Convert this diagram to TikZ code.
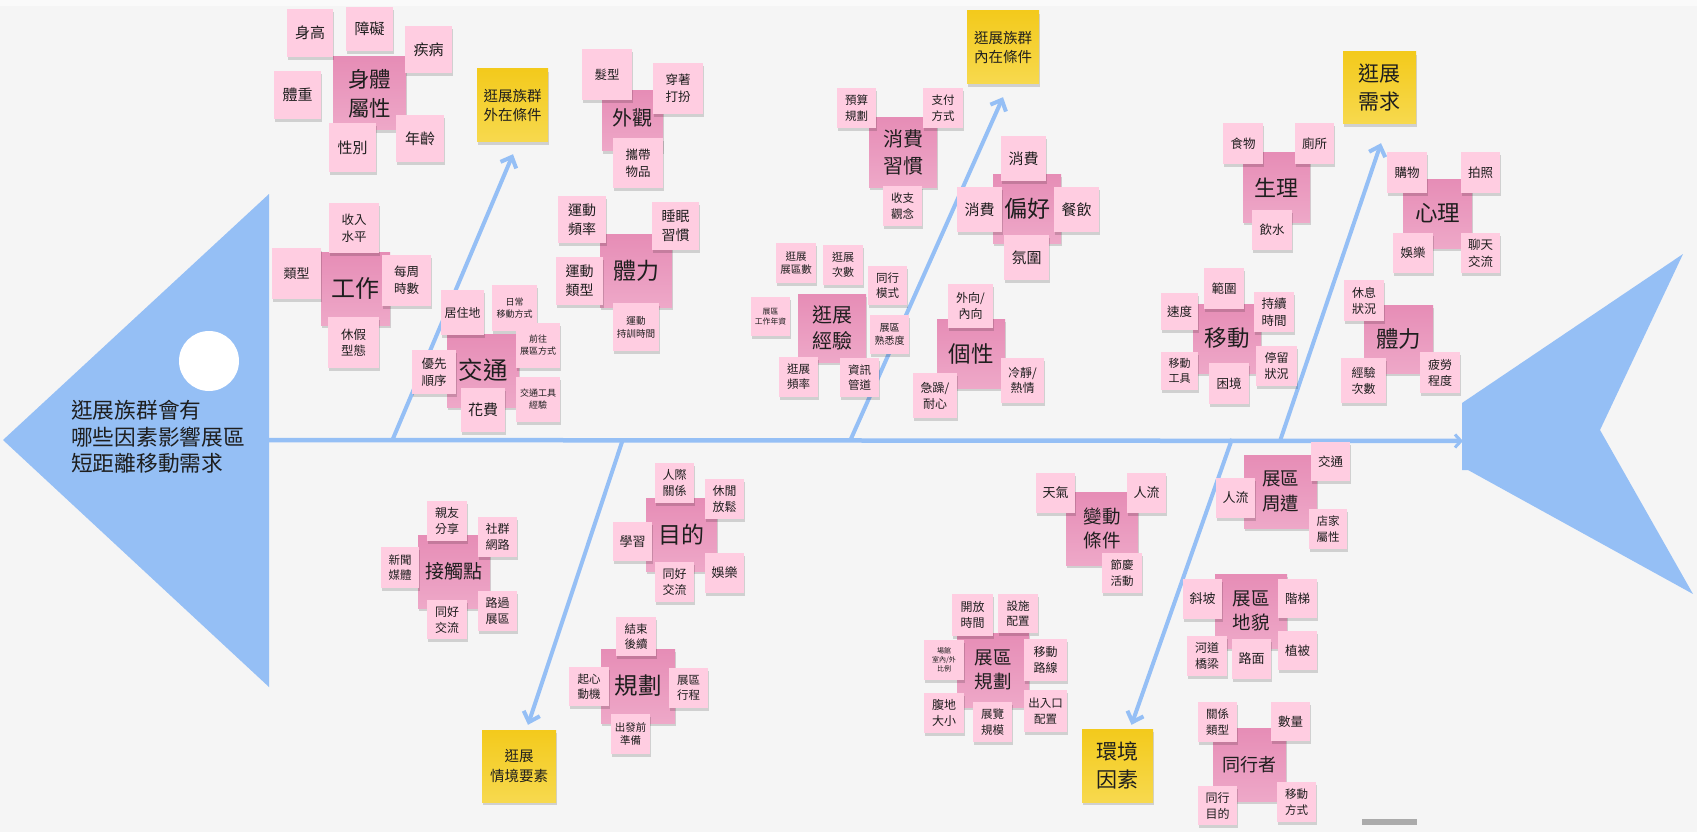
\documentclass[tikz,border=0pt]{standalone}
\usepackage{fontspec}
\setmainfont{Noto Sans CJK TC}
\usetikzlibrary{arrows.meta,shadows}
\definecolor{bgc}{HTML}{F5F5F5}
\definecolor{fish}{HTML}{95BFF5}
\definecolor{ltp}{HTML}{FFCDE1}
\definecolor{dkpA}{HTML}{E68DB6}
\definecolor{dkpB}{HTML}{EEA8C8}
\definecolor{ylA}{HTML}{F3CA1C}
\definecolor{ylB}{HTML}{F7D94E}
\definecolor{ink}{HTML}{1E1E1E}
\pgfdeclarelayer{bgl}
\pgfsetlayers{bgl,main}
\newcommand\stk[8]{\node[#1, minimum width={(#5-#3)*1pt}, minimum height={(#6-#4)*1pt}, font=\fontsize{#7}{\fpeval{#7*1.33}}\selectfont] (#2) at ({(#3+#5)/2},{(#4+#6)/2}) {#8};}
\tikzset{
 note/.style={inner sep=0pt, align=center, text=ink, drop shadow={shadow xshift=0.6pt, shadow yshift=-3pt, fill=black, opacity=0.15}},
 lt/.style={note, fill=ltp},
 dk/.style={note, top color=dkpA, bottom color=dkpB},
 yl/.style={note, top color=ylA, bottom color=ylB},
 bone/.style={draw=fish, line width=4pt, -{Straight Barb[length=9pt,width=17pt]}},
 spine/.style={draw=fish, line width=4.5pt, -{Straight Barb[length=6pt,width=13pt,line width=3pt]}}
}
\begin{document}
\begin{tikzpicture}[x=1pt,y=-1pt]
\useasboundingbox (0,0) rectangle (1697,832);
% ---------- dark category notes ----------
\stk{dk}{shenti}{333}{57}{406}{130}{21.5}{身體\\屬性}
\stk{dk}{gongzuo}{321}{252}{390}{325}{24}{工作}
\stk{dk,text depth=8pt}{waiguan}{602}{91}{663}{151}{20}{外觀}
\stk{dk}{tili1}{600}{234}{672}{307}{23}{體力}
\stk{dk}{jiaotong}{447}{334}{519}{407}{24.5}{交通}
\stk{dk}{xiaofei}{869}{118}{937}{187}{20}{消費\\習慣}
\stk{dk}{pianhao}{993}{174}{1061}{243}{23}{偏好}
\stk{dk}{jingyan}{798}{294}{866}{362}{20}{逛展\\經驗}
\stk{dk}{gexing}{937}{319}{1005}{388}{22.5}{個性}
\stk{dk}{shengli}{1243}{153}{1310}{222}{22}{生理}
\stk{dk}{xinli}{1403}{179}{1472}{248}{22.5}{心理}
\stk{dk}{yidong}{1193}{304}{1261}{373}{22.5}{移動}
\stk{dk}{tili2}{1364}{305}{1433}{373}{22.5}{體力}
\stk{dk}{jiechu}{418}{535}{490}{608}{19}{接觸點}
\stk{dk}{mudi}{646}{498}{717}{571}{23}{目的}
\stk{dk}{guihua}{601}{649}{675}{723}{23.5}{規劃}
\stk{dk}{biandong}{1066}{492}{1138}{565}{18.5}{變動\\條件}
\stk{dk}{zhoubian}{1244}{455}{1317}{528}{18.5}{展區\\周遭}
\stk{dk}{zhanqugh}{957}{633}{1029}{707}{18.5}{展區\\規劃}
\stk{dk}{dimao}{1215}{574}{1287}{648}{18.5}{展區\\地貌}
\stk{dk}{tongxing}{1213}{728}{1286}{801}{18}{同行者}
% ---------- light notes ----------
\stk{lt}{shengao}{287}{9}{333}{57}{15}{身高}
\stk{lt}{zhangai}{346}{7}{393}{51}{15}{障礙}
\stk{lt}{jibing}{405}{26}{452}{73}{15}{疾病}
\stk{lt}{tizhong}{274}{71}{321}{119}{15}{體重}
\stk{lt}{xingbie}{329}{123}{376}{172}{15}{性別}
\stk{lt}{nianling}{396}{115}{444}{162}{15}{年齡}
\stk{lt}{shouru}{329}{203}{379}{253}{12.5}{收入\\水平}
\stk{lt}{leixing}{272}{248}{321}{299}{13}{類型}
\stk{lt}{meizhou}{382}{255}{431}{306}{12.5}{每周\\時數}
\stk{lt}{xiujia}{328}{317}{379}{368}{12.5}{休假\\型態}
\stk{lt}{faxing}{582}{49}{632}{100}{12.5}{髮型}
\stk{lt}{chuanzhuo}{653}{63}{703}{114}{12.5}{穿著\\打扮}
\stk{lt}{xiedai}{613}{138}{663}{188}{12.5}{攜帶\\物品}
\stk{lt}{ydpl}{558}{196}{606}{243}{14}{運動\\頻率}
\stk{lt}{shuimian}{652}{202}{699}{250}{14}{睡眠\\習慣}
\stk{lt}{ydlx}{556}{257}{603}{305}{14}{運動\\類型}
\stk{lt}{ydsj}{613}{303}{659}{351}{9.6}{運動\\持訓時間}
\stk{lt}{juzhu}{441}{290}{484}{335}{12}{居住地}
\stk{lt}{richang}{492}{285}{537}{331}{9}{日常\\移動方式}
\stk{lt}{qianwang}{516}{323}{560}{368}{9}{前往\\展區方式}
\stk{lt}{youxian}{412}{350}{456}{394}{12.5}{優先\\順序}
\stk{lt}{huafei}{461}{388}{505}{432}{15}{花費}
\stk{lt}{jtgj}{516}{377}{560}{422}{9}{交通工具\\經驗}
\stk{lt}{yusuan}{837}{88}{876}{128}{11.5}{預算\\規劃}
\stk{lt}{zhifu}{923}{88}{963}{128}{11.5}{支付\\方式}
\stk{lt}{shouzhi}{883}{186}{922}{226}{11.5}{收支\\觀念}
\stk{lt}{xftop}{1001}{136}{1046}{181}{15}{消費}
\stk{lt}{xfleft}{957}{187}{1002}{232}{15}{消費}
\stk{lt}{canyin}{1054}{187}{1099}{232}{15}{餐飲}
\stk{lt}{fenwei}{1004}{235}{1049}{280}{15}{氛圍}
\stk{lt}{zqs}{776}{243}{816}{283}{10.5}{逛展\\展區數}
\stk{lt}{cishu}{823}{245}{863}{285}{11}{逛展\\次數}
\stk{lt}{txms}{868}{266}{907}{305}{11.5}{同行\\模式}
\stk{lt}{gznz}{751}{297}{790}{336}{7.8}{展區\\工作年資}
\stk{lt}{shuxi}{870}{315}{909}{354}{10}{展區\\熟悉度}
\stk{lt}{pinlv}{779}{357}{818}{397}{11.5}{逛展\\頻率}
\stk{lt}{zixun}{840}{358}{879}{397}{11.5}{資訊\\管道}
\stk{lt}{waixiang}{948}{284}{993}{328}{12}{外向/\\內向}
\stk{lt}{lengjing}{1001}{358}{1044}{403}{12}{冷靜/\\熱情}
\stk{lt}{jizao}{913}{373}{957}{418}{12}{急躁/\\耐心}
\stk{lt}{shiwu}{1223}{123}{1263}{164}{12.5}{食物}
\stk{lt}{cesuo}{1295}{123}{1334}{164}{12.5}{廁所}
\stk{lt}{yinshui}{1252}{210}{1292}{250}{12.5}{飲水}
\stk{lt}{gouwu}{1387}{152}{1427}{193}{12.5}{購物}
\stk{lt}{paizhao}{1461}{152}{1500}{193}{12.5}{拍照}
\stk{lt}{yulea}{1393}{233}{1433}{273}{12.5}{娛樂}
\stk{lt}{liaotian}{1461}{233}{1500}{273}{12.5}{聊天\\交流}
\stk{lt}{fanwei}{1204}{268}{1244}{309}{12.5}{範圍}
\stk{lt}{sudu}{1161}{293}{1198}{330}{12.5}{速度}
\stk{lt}{chixu}{1254}{292}{1294}{332}{12.5}{持續\\時間}
\stk{lt}{ydgj}{1161}{352}{1198}{390}{11}{移動\\工具}
\stk{lt}{kunjing}{1209}{363}{1249}{404}{12.5}{困境}
\stk{lt}{tingliu}{1256}{346}{1297}{386}{12}{停留\\狀況}
\stk{lt}{xiuxi}{1344}{280}{1384}{321}{12}{休息\\狀況}
\stk{lt}{jycs}{1341}{358}{1386}{403}{12}{經驗\\次數}
\stk{lt}{pilao}{1420}{352}{1460}{393}{12}{疲勞\\程度}
\stk{lt}{qinyou}{427}{501}{467}{541}{12}{親友\\分享}
\stk{lt}{shequn}{478}{517}{517}{557}{12}{社群\\網路}
\stk{lt}{xinwen}{381}{547}{419}{588}{11.5}{新聞\\媒體}
\stk{lt}{thjla}{427}{600}{467}{639}{12}{同好\\交流}
\stk{lt}{luguo}{478}{591}{517}{631}{12}{路過\\展區}
\stk{lt}{renji}{655}{463}{694}{503}{12}{人際\\關係}
\stk{lt}{xiuxian}{705}{479}{744}{519}{12}{休閒\\放鬆}
\stk{lt}{xuexi}{613}{522}{652}{561}{13}{學習}
\stk{lt}{thjlb}{655}{562}{694}{602}{12}{同好\\交流}
\stk{lt}{yuleb}{705}{553}{744}{593}{13}{娛樂}
\stk{lt}{jieshu}{616}{617}{656}{656}{11.5}{結束\\後續}
\stk{lt}{qixin}{569}{667}{609}{706}{11.5}{起心\\動機}
\stk{lt}{xingcheng}{669}{668}{708}{708}{11.5}{展區\\行程}
\stk{lt}{chufa}{611}{714}{650}{754}{10.5}{出發前\\準備}
\stk{lt}{tianqi}{1036}{473}{1075}{513}{13}{天氣}
\stk{lt}{renliua}{1127}{473}{1166}{513}{13}{人流}
\stk{lt}{jieqing}{1102}{553}{1142}{593}{11.5}{節慶\\活動}
\stk{lt}{renliub}{1216}{478}{1255}{518}{13}{人流}
\stk{lt}{jiaotongb}{1311}{442}{1350}{481}{12.5}{交通}
\stk{lt}{dianjia}{1309}{509}{1347}{549}{11.5}{店家\\屬性}
\stk{lt}{kaifang}{952}{594}{993}{636}{12}{開放\\時間}
\stk{lt}{sheshi}{998}{594}{1038}{633}{11.5}{設施\\配置}
\stk{lt}{changguan}{924}{640}{964}{680}{7}{場館\\室內/外\\比例}
\stk{lt}{ydlxb}{1024}{639}{1067}{681}{12}{移動\\路線}
\stk{lt}{fudi}{924}{693}{964}{733}{12}{腹地\\大小}
\stk{lt}{guimo}{973}{702}{1012}{742}{11.5}{展覽\\規模}
\stk{lt}{churu}{1024}{690}{1067}{732}{11.5}{出入口\\配置}
\stk{lt}{xiepo}{1183}{579}{1222}{619}{13}{斜坡}
\stk{lt}{jieti}{1278}{579}{1317}{618}{12.5}{階梯}
\stk{lt}{hedao}{1187}{636}{1227}{676}{12}{河道\\橋梁}
\stk{lt}{lumian}{1232}{639}{1271}{679}{13}{路面}
\stk{lt}{zhibei}{1278}{631}{1317}{670}{12.5}{植被}
\stk{lt}{guanxi}{1198}{702}{1237}{742}{11.5}{關係\\類型}
\stk{lt}{shuliang}{1271}{702}{1310}{741}{12.5}{數量}
\stk{lt}{txmd}{1198}{786}{1237}{825}{12}{同行\\目的}
\stk{lt}{ydfs}{1277}{782}{1316}{822}{11.5}{移動\\方式}
% ---------- yellow heading notes ----------
\stk{yl}{wai}{477}{69}{548}{142}{14.5}{逛展族群\\外在條件}
\stk{yl}{nei}{967}{11}{1039}{84}{14.5}{逛展族群\\內在條件}
\stk{yl}{xq}{1343}{52}{1416}{124}{21}{逛展\\需求}
\stk{yl}{qj}{482}{730}{556}{802}{14.5}{逛展\\情境要素}
\stk{yl}{hj}{1082}{729}{1153}{802}{21}{環境\\因素}
% ---------- title in the head ----------
\node[anchor=west, align=left, inner sep=0pt, text=ink, font=\fontsize{21.7}{26.5}\selectfont] (title) at (71,437) {逛展族群會有\\哪些因素影響展區\\短距離移動需求};
% ---------- fish skeleton (behind) ----------
\begin{pgfonlayer}{bgl}
\fill[bgc] (0,0) rectangle (1697,832);
\fill[white,opacity=0.5] (0,0) rectangle (1697,6);
\fill[fish] (3,440) -- (269,194) -- (269,687) -- cycle;
\fill[white] (209,361) circle[radius=30];
\fill[fish] (1462,403) -- (1683,254) -- (1600,430) -- (1693,594) -- (1468,470) -- (1462,470) -- cycle;
\coordinate (s0) at (269,440);
\coordinate (s1) at (1463,441);
\draw[spine] (s0) -- (s1);
\coordinate (b1) at (392,441);
\coordinate (b2) at (850,441);
\coordinate (b3) at (1280,441);
\coordinate (b4) at (623,439);
\coordinate (b5) at (1232,439);
\draw[bone] (b1) -- ([xshift=0.5pt,yshift=-12pt]wai.south);
\draw[bone] (b2) -- ([yshift=-13pt]nei.south);
\draw[bone] (b3) -- ([xshift=1.5pt,yshift=-19pt]xq.south);
\draw[bone] (b4) -- ([xshift=9pt,yshift=5pt]qj.north);
\draw[bone] (b5) -- ([xshift=14pt,yshift=4pt]hj.north);
\fill[black!33] (1362,819) rectangle (1417,825);
\end{pgfonlayer}
\end{tikzpicture}
\end{document}
